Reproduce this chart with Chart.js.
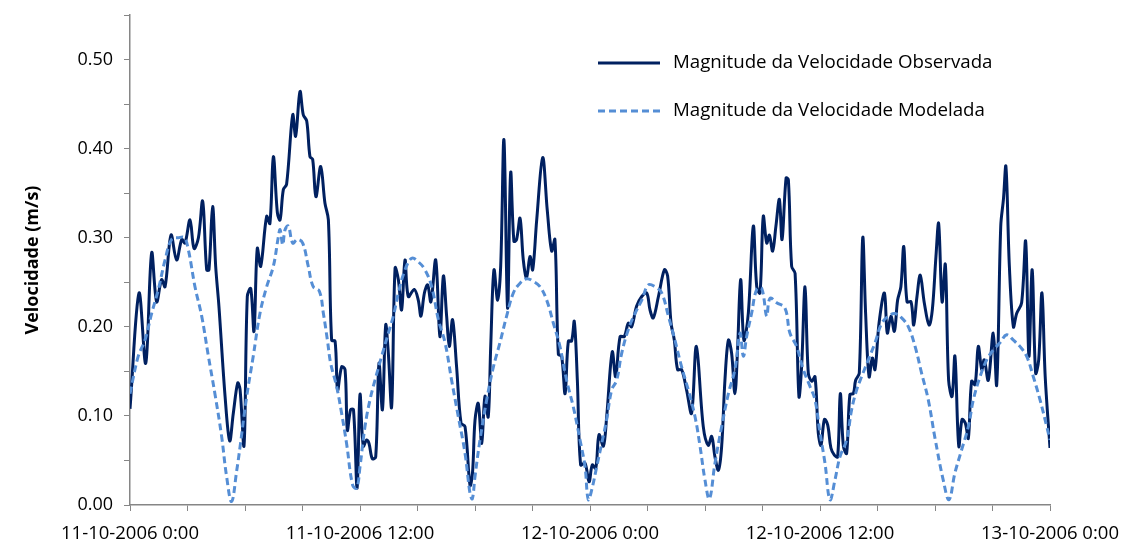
<!DOCTYPE html>
<html>
<head>
<meta charset="utf-8">
<script src="https://cdn.jsdelivr.net/npm/chart.js@4/dist/chart.umd.min.js"></script>
<style>
    html, body { margin: 0; padding: 0; background: #fff; }
</style>
</head>
<body>
<canvas id="chart" width="1125" height="541"></canvas>
<script>
// ===== Data (hours since 11-10-2006 0:00, speed in m/s) =====

const xTickLabels = ['11-10-2006 0:00', '11-10-2006 12:00', '12-10-2006 0:00', '12-10-2006 12:00', '13-10-2006 0:00'];
const seriesNames = ['Magnitude da Velocidade Observada', 'Magnitude da Velocidade Modelada'];

const obsHours = [
    0, 0.47, 0.82, 1.13, 1.39, 1.65, 1.83, 2.14, 2.43, 2.7, 2.87, 3.13, 3.34, 3.57, 3.79, 4, 4.12, 4.31, 4.47, 4.64,
    4.96, 5.2, 5.39, 5.62, 5.74, 5.95, 6.12, 6.3, 6.47, 6.64, 6.82, 7.13, 7.3, 7.48, 7.69, 7.83, 8, 8.17, 8.49, 8.64,
    8.87, 9.04, 9.22, 9.39, 9.53, 9.7, 9.95, 10.17, 10.35, 10.52, 10.7, 10.83, 11.04, 11.22, 11.34, 11.51, 11.66, 11.85, 12, 12.17,
    12.35, 12.47, 12.64, 12.82, 12.99, 13.17, 13.34, 13.48, 13.65, 13.83, 14, 14.17, 14.35, 14.52, 14.83, 15.04, 15.18, 15.36, 15.53, 15.7,
    15.95, 16.17, 16.35, 16.52, 16.66, 16.83, 17.04, 17.27, 17.48, 17.74, 17.87, 18, 18.17, 18.35, 18.52, 18.69, 18.82, 18.99, 19.18, 19.34,
    19.51, 19.7, 19.86, 20.03, 20.17, 20.35, 20.52, 20.69, 20.87, 21.01, 21.22, 21.53, 21.77, 22, 22.17, 22.35, 22.52, 22.7, 22.87, 23.04,
    23.18, 23.34, 23.51, 23.74, 23.95, 24.12, 24.3, 24.47, 24.7, 24.87, 25.16, 25.34, 25.57, 25.79, 26, 26.17, 26.43, 26.7, 26.96, 27.13,
    27.3, 27.57, 27.88, 28.05, 28.23, 28.4, 28.57, 28.78, 29.04, 29.3, 29.55, 29.91, 30.17, 30.35, 30.52, 30.7, 30.87, 31.04, 31.22, 31.39,
    31.56, 31.69, 31.86, 32.03, 32.26, 32.52, 32.7, 32.87, 33.04, 33.22, 33.36, 33.53, 33.7, 33.88, 34.02, 34.23, 34.35, 34.52, 34.7, 34.9,
    35.04, 35.22, 35.39, 35.57, 35.74, 35.91, 36.05, 36.23, 36.4, 36.57, 36.75, 36.92, 37.06, 37.22, 37.39, 37.56, 37.74, 37.86, 38.05, 38.23,
    38.38, 38.56, 38.73, 38.87, 39.08, 39.36, 39.51, 39.7, 39.88, 40.05, 40.22, 40.37, 40.54, 40.75, 40.89, 41.06, 41.23, 41.44, 41.69, 41.86,
    42.05, 42.19, 42.37, 42.54, 42.71, 42.89, 43.04, 43.24, 43.41, 43.58, 43.74, 43.91, 44.09, 44.26, 44.44, 44.57, 44.78, 45.04, 45.22, 45.43,
    45.57, 45.7, 45.88, 46.09, 46.26, 46.52, 46.73, 46.9, 47.07, 47.25, 47.41, 47.58, 47.75, 48
];
const obsSpeed = [
    0.108, 0.238, 0.159, 0.283, 0.228, 0.253, 0.245, 0.303, 0.275, 0.298, 0.294, 0.320, 0.288, 0.300, 0.341, 0.264, 0.264, 0.335, 0.268, 0.223,
    0.122, 0.072, 0.103, 0.137, 0.130, 0.067, 0.234, 0.243, 0.195, 0.288, 0.268, 0.324, 0.316, 0.391, 0.328, 0.320, 0.354, 0.360, 0.438, 0.414,
    0.464, 0.438, 0.431, 0.391, 0.388, 0.346, 0.380, 0.339, 0.320, 0.185, 0.184, 0.129, 0.155, 0.152, 0.084, 0.107, 0.107, 0.019, 0.124, 0.066,
    0.073, 0.069, 0.052, 0.054, 0.159, 0.107, 0.202, 0.170, 0.110, 0.266, 0.253, 0.219, 0.275, 0.234, 0.242, 0.230, 0.212, 0.238, 0.247, 0.228,
    0.275, 0.189, 0.257, 0.212, 0.178, 0.208, 0.155, 0.092, 0.088, 0.022, 0.036, 0.095, 0.114, 0.069, 0.122, 0.099, 0.178, 0.264, 0.230, 0.268,
    0.410, 0.221, 0.373, 0.296, 0.298, 0.322, 0.275, 0.255, 0.279, 0.264, 0.320, 0.390, 0.331, 0.285, 0.298, 0.169, 0.167, 0.125, 0.184, 0.184,
    0.206, 0.140, 0.045, 0.047, 0.026, 0.045, 0.041, 0.079, 0.066, 0.099, 0.172, 0.144, 0.189, 0.189, 0.204, 0.200, 0.223, 0.234, 0.238, 0.219,
    0.210, 0.234, 0.264, 0.257, 0.204, 0.185, 0.152, 0.152, 0.129, 0.103, 0.178, 0.088, 0.067, 0.077, 0.054, 0.039, 0.066, 0.140, 0.185, 0.170,
    0.125, 0.170, 0.253, 0.185, 0.215, 0.313, 0.245, 0.238, 0.324, 0.294, 0.303, 0.285, 0.313, 0.343, 0.298, 0.367, 0.365, 0.268, 0.260, 0.122,
    0.155, 0.245, 0.148, 0.139, 0.144, 0.081, 0.067, 0.096, 0.090, 0.064, 0.056, 0.054, 0.125, 0.066, 0.058, 0.124, 0.125, 0.140, 0.148, 0.300,
    0.215, 0.144, 0.165, 0.152, 0.204, 0.238, 0.193, 0.212, 0.195, 0.230, 0.245, 0.290, 0.228, 0.228, 0.202, 0.234, 0.258, 0.227, 0.202, 0.219,
    0.279, 0.316, 0.228, 0.270, 0.140, 0.122, 0.167, 0.066, 0.096, 0.092, 0.075, 0.139, 0.135, 0.178, 0.152, 0.163, 0.140, 0.193, 0.135, 0.313,
    0.343, 0.380, 0.268, 0.200, 0.215, 0.227, 0.296, 0.167, 0.264, 0.148, 0.163, 0.238, 0.144, 0.064
];

const modHours = [
    0, 0.43, 0.78, 1.13, 1.48, 1.83, 2.17, 2.52, 2.83, 3.04, 3.39, 3.74, 4.09, 4.43, 4.78, 5.04, 5.3, 5.57, 5.74, 6.09,
    6.43, 6.78, 7.13, 7.48, 7.74, 7.83, 7.97, 8.09, 8.26, 8.49, 8.73, 9.01, 9.3, 9.56, 9.88, 10.09, 10.3, 10.47, 10.78, 11.04,
    11.3, 11.62, 11.83, 12, 12.26, 12.52, 12.78, 13.13, 13.48, 13.74, 14, 14.35, 14.7, 15.04, 15.39, 15.74, 16.09, 16.44, 16.78, 17.13,
    17.48, 17.74, 17.86, 18, 18.26, 18.61, 18.96, 19.3, 19.65, 20, 20.35, 20.7, 21.04, 21.39, 21.74, 22.09, 22.43, 22.78, 23.13, 23.48,
    23.74, 23.91, 24.09, 24.35, 24.61, 24.87, 25.13, 25.39, 25.65, 26, 26.35, 26.7, 27.04, 27.39, 27.74, 28.09, 28.43, 28.78, 29.13, 29.48,
    29.74, 30, 30.23, 30.52, 30.87, 31.22, 31.56, 31.83, 32, 32.17, 32.43, 32.7, 32.96, 33.22, 33.39, 33.74, 34.17, 34.43, 34.78, 35.13,
    35.48, 35.74, 36, 36.26, 36.52, 36.78, 37.04, 37.39, 37.65, 37.91, 38.17, 38.52, 38.87, 39.22, 39.57, 39.91, 40.26, 40.61, 40.96, 41.3,
    41.65, 42, 42.43, 42.73, 43.04, 43.39, 43.74, 44, 44.35, 44.7, 45.04, 45.39, 45.74, 46.09, 46.43, 46.78, 47.13, 47.48, 47.83, 48
];
const modSpeed = [
    0.125, 0.167, 0.185, 0.215, 0.242, 0.275, 0.298, 0.300, 0.300, 0.287, 0.245, 0.212, 0.167, 0.125, 0.077, 0.032, 0.004, 0.039, 0.065, 0.122,
    0.167, 0.215, 0.245, 0.268, 0.301, 0.309, 0.292, 0.309, 0.313, 0.294, 0.298, 0.294, 0.268, 0.245, 0.240, 0.215, 0.185, 0.159, 0.133, 0.103,
    0.069, 0.022, 0.019, 0.043, 0.088, 0.118, 0.140, 0.167, 0.193, 0.212, 0.238, 0.264, 0.277, 0.273, 0.264, 0.245, 0.208, 0.182, 0.140, 0.099,
    0.058, 0.013, 0.007, 0.032, 0.073, 0.118, 0.155, 0.182, 0.212, 0.238, 0.249, 0.254, 0.251, 0.245, 0.230, 0.204, 0.178, 0.140, 0.110, 0.073,
    0.043, 0.006, 0.017, 0.043, 0.069, 0.096, 0.129, 0.140, 0.170, 0.197, 0.215, 0.230, 0.247, 0.245, 0.238, 0.212, 0.185, 0.155, 0.129, 0.099,
    0.066, 0.028, 0.007, 0.047, 0.088, 0.125, 0.152, 0.193, 0.167, 0.189, 0.215, 0.242, 0.243, 0.212, 0.232, 0.227, 0.221, 0.193, 0.178, 0.152,
    0.133, 0.118, 0.081, 0.047, 0.006, 0.028, 0.054, 0.073, 0.107, 0.129, 0.144, 0.163, 0.182, 0.204, 0.212, 0.215, 0.210, 0.200, 0.178, 0.148,
    0.118, 0.075, 0.028, 0.006, 0.036, 0.062, 0.088, 0.118, 0.144, 0.163, 0.174, 0.182, 0.191, 0.185, 0.178, 0.167, 0.144, 0.118, 0.088, 0.073
];

// ===== Style =====

const FONT = "'Open Sans'";
const AXIS_COLOR = '#868686';
const OBS_COLOR = '#002060';
const MOD_COLOR = '#558ed5';

const toPoints = (xs, ys) => xs.map((x, i) => ({ x, y: ys[i] }));

// Legend drawn inside the plot, top right
const insideLegend = {
    id: 'insideLegend',
    afterDraw(chart) {
        const ctx = chart.ctx;
        chart.data.datasets.forEach((ds, i) => {
            const y = 63 + i * 48;
            ctx.save();
            ctx.strokeStyle = ds.borderColor;
            ctx.lineWidth = ds.borderWidth;
            ctx.setLineDash(ds.borderDash || []);
            ctx.beginPath();
            ctx.moveTo(598, y);
            ctx.lineTo(660, y);
            ctx.stroke();
            ctx.setLineDash([]);
            ctx.fillStyle = '#000';
            ctx.font = `18.7px ${FONT}`;
            ctx.textBaseline = 'middle';
            ctx.fillText(ds.label, 673, y);
            ctx.restore();
        });
    }
};

new Chart(document.getElementById('chart').getContext('2d'), {
    type: 'line',
    data: {
        datasets: [
            {
                label: seriesNames[0],
                data: toPoints(obsHours, obsSpeed),
                borderColor: OBS_COLOR,
                borderWidth: 3,
                pointRadius: 0,
                tension: 0.35,
                order: 1
            },
            {
                label: seriesNames[1],
                data: toPoints(modHours, modSpeed),
                borderColor: MOD_COLOR,
                borderWidth: 3,
                borderDash: [7, 4],
                pointRadius: 0,
                tension: 0.4,
                order: 0
            }
        ]
    },
    options: {
        responsive: false,
        animation: false,
        devicePixelRatio: 1,
        layout: { padding: { top: 15, right: 75, left: 0, bottom: 0 } },
        plugins: {
            legend: { display: false },
            tooltip: { enabled: false }
        },
        scales: {
            x: {
                type: 'linear',
                min: 0,
                max: 48,
                afterFit: s => {
                    s.height = 36;
                    s.paddingLeft = 0;
                    s.paddingRight = 0;
                },
                ticks: {
                    stepSize: 3,
                    autoSkip: false,
                    maxRotation: 0,
                    color: '#000',
                    padding: 12,
                    font: { family: FONT, size: 18.5 },
                    callback: v => v % 12 === 0 ? xTickLabels[v / 12] : ''
                },
                grid: { drawOnChartArea: false, tickLength: 6, color: AXIS_COLOR },
                border: { color: AXIS_COLOR, width: 1.5 }
            },
            y: {
                min: 0,
                max: 0.55,
                afterFit: s => {
                    s.width = 130;
                    s.paddingTop = 0;
                    s.paddingBottom = 0;
                },
                ticks: {
                    stepSize: 0.05,
                    color: '#000',
                    padding: 11,
                    font: { family: FONT, size: 18 },
                    callback: v => Math.round(v * 100) % 10 === 0 ? v.toFixed(2) : ''
                },
                grid: { drawOnChartArea: false, tickLength: 6, color: AXIS_COLOR },
                border: { color: AXIS_COLOR, width: 1.5 },
                title: {
                    display: true,
                    text: 'Velocidade (m/s)',
                    color: '#000',
                    font: { family: FONT, size: 18, weight: 'bold' },
                    padding: { top: 22, bottom: 0 }
                }
            }
        }
    },
    plugins: [insideLegend]
});
</script>
</body>
</html>
